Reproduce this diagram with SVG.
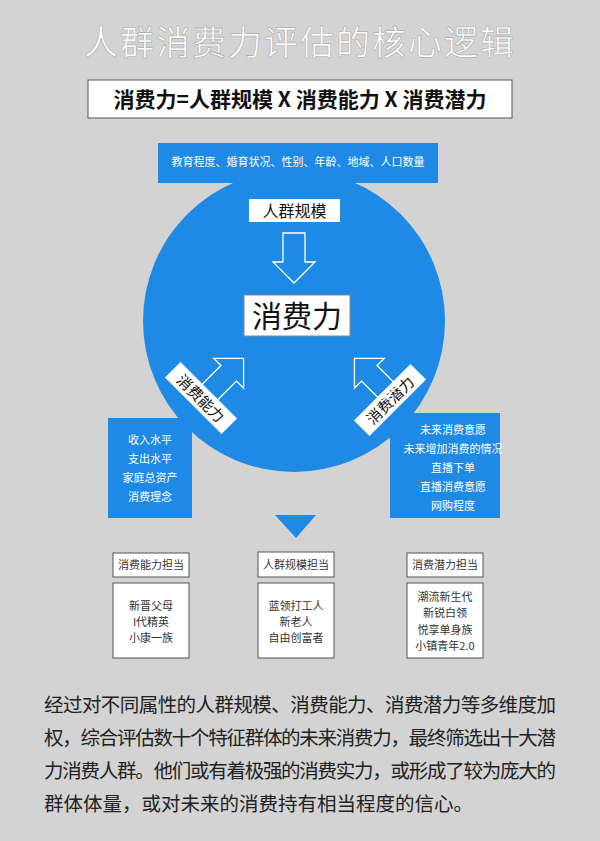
<svg xmlns="http://www.w3.org/2000/svg" width="600" height="841" viewBox="0 0 600 841">
<style>
text{font-family:"Noto Sans CJK SC","Noto Sans",sans-serif}
.w{fill:#fff}
.b{fill:#1e8ae6}
.lb{fill:#fff;stroke:#555;stroke-width:1}
.arr{fill:none;stroke:#fff;stroke-width:1.3}
.s{font-size:11px;fill:#333;text-anchor:middle}
.bt{font-size:11px;fill:#fff;text-anchor:middle}
</style>
<rect width="600" height="841" fill="#d3d3d3"/>
<text x="300" y="55" font-size="34" text-anchor="middle" fill="#fff" stroke="#aaa" stroke-width="0.6" letter-spacing="2">人群消费力评估的核心逻辑</text>
<g id="formula"><rect x="88" y="80" width="424" height="38" class="lb" stroke="#333"/>
<text x="300" y="107" font-size="21" font-weight="bold" text-anchor="middle" fill="#111">消费力=人群规模 X 消费能力 X 消费潜力</text></g>
<g id="circle">
<circle cx="294" cy="321" r="151" class="b"/>
<rect x="158" y="143" width="280" height="40" class="b"/>
<text x="298" y="166" class="bt">教育程度、婚育状况、性别、年龄、地域、人口数量</text>
<rect x="108" y="418" width="84" height="100" class="b"/>
<text x="150" y="444" class="bt">收入水平</text><text x="150" y="463" class="bt">支出水平</text><text x="150" y="482" class="bt">家庭总资产</text><text x="150" y="501" class="bt">消费理念</text>
<rect x="390" y="413" width="110" height="105" class="b"/>
<text x="453" y="434" class="bt">未来消费意愿</text><text x="453" y="453" class="bt">未来增加消费的情况</text><text x="453" y="472" class="bt">直播下单</text><text x="453" y="491" class="bt">直播消费意愿</text><text x="453" y="510" class="bt">网购程度</text>
<polygon points="275,515 316,515 296,538" class="b"/>
</g>
<g id="scale"><rect x="249" y="199" width="91" height="23" class="w"/><text x="294.5" y="217" font-size="16" text-anchor="middle" fill="#111">人群规模</text></g>
<g id="core"><rect x="244" y="295" width="106" height="41" class="w" stroke="#888"/><text x="297" y="327" font-size="30" text-anchor="middle" fill="#111">消费力</text></g>
<g id="ability" transform="translate(201,398) rotate(45)"><rect x="-40" y="-11" width="80" height="22" class="w"/><text x="0" y="6" font-size="15" text-anchor="middle" fill="#111">消费能力</text></g>
<g id="potential" transform="translate(390,400) rotate(-45)"><rect x="-40" y="-11" width="80" height="22" class="w"/><text x="0" y="6" font-size="15" text-anchor="middle" fill="#111">消费潜力</text></g>
<g id="connectors">
<polygon class="arr" points="283,233 305,233 305,262 315,262 294,283 273,262 283,262"/>
<g transform="translate(228,374) rotate(45)"><polygon class="arr" points="-11,28 11,28 11,-1 21,-1 0,-22 -21,-1 -11,-1"/></g>
<g transform="translate(370,374) rotate(-45)"><polygon class="arr" points="-11,28 11,28 11,-1 21,-1 0,-22 -21,-1 -11,-1"/></g>
</g>
<g id="team1"><rect x="113" y="553" width="76" height="24" class="lb"/><text x="151" y="569" class="s">消费能力担当</text>
<rect x="113" y="583" width="76" height="75" class="lb"/><text x="151" y="610" class="s">新晋父母</text><text x="151" y="626" class="s">I代精英</text><text x="151" y="642" class="s">小康一族</text></g>
<g id="team2"><rect x="258" y="552" width="76" height="25" class="lb"/><text x="296" y="569" class="s">人群规模担当</text>
<rect x="258" y="583" width="76" height="75" class="lb"/><text x="296" y="610" class="s">蓝领打工人</text><text x="296" y="626" class="s">新老人</text><text x="296" y="642" class="s">自由创富者</text></g>
<g id="team3"><rect x="407" y="553" width="76" height="24" class="lb"/><text x="445" y="569" class="s">消费潜力担当</text>
<rect x="407" y="583" width="76" height="75" class="lb"/><text x="445" y="601" class="s">潮流新生代</text><text x="445" y="617" class="s">新锐白领</text><text x="445" y="634" class="s">悦享单身族</text><text x="445" y="650" class="s">小镇青年2.0</text></g>
<g font-size="19.5" fill="#222">
<text x="44" y="712" textLength="512" lengthAdjust="spacing">经过对不同属性的人群规模、消费能力、消费潜力等多维度加</text>
<text x="44" y="745" textLength="512" lengthAdjust="spacing">权，综合评估数十个特征群体的未来消费力，最终筛选出十大潜</text>
<text x="44" y="778" textLength="512" lengthAdjust="spacing">力消费人群。他们或有着极强的消费实力，或形成了较为庞大的</text>
<text x="44" y="811">群体体量，或对未来的消费持有相当程度的信心。</text>
</g>
</svg>
